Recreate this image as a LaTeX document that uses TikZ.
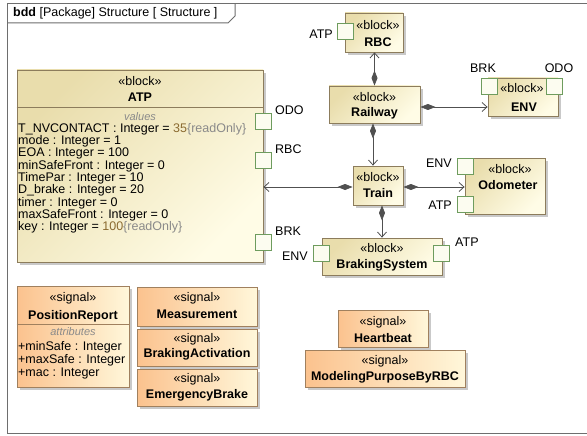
\documentclass[tikz,border=0pt]{standalone}
\usepackage{fontspec}
\setmainfont{Liberation Sans}
\usetikzlibrary{arrows.meta,shadows}

\definecolor{framegray}{HTML}{6E6E6E}
\definecolor{blockborder}{HTML}{8C7C5C}
\definecolor{blocktan}{HTML}{E9DDAC}
\definecolor{blockcream}{HTML}{FFFCE6}
\definecolor{sigborder}{HTML}{A0805E}
\definecolor{sigorange}{HTML}{FBC28E}
\definecolor{sigcream}{HTML}{FFF7DA}
\definecolor{portgreen}{HTML}{6E9C5E}
\definecolor{portfill}{HTML}{FCFCF0}
\definecolor{linegray}{HTML}{505050}
\definecolor{compgray}{HTML}{8A8A8A}
\definecolor{valbrown}{HTML}{8A6A30}

\newcommand\basefont{\fontsize{12.5pt}{14pt}\selectfont}

\tikzset{
  blockbox/.style={draw=blockborder, line width=0.8pt,
    top color=blocktan, bottom color=blockcream, shading angle=45,
    drop shadow={shadow xshift=3pt, shadow yshift=-3pt, opacity=0.35, fill=black!60},
    inner sep=0pt},
  sigbox/.style={draw=sigborder, line width=0.8pt,
    left color=sigorange, right color=sigcream,
    drop shadow={shadow xshift=3pt, shadow yshift=-3pt, opacity=0.35, fill=black!60},
    inner sep=0pt},
  portbox/.style={draw=portgreen, fill=portfill, line width=0.8pt,
    minimum width=16pt, minimum height=16pt, inner sep=0pt},
  lbl/.style={inner sep=0pt, font=\basefont},
  nmlbl/.style={inner sep=0pt, font=\basefont\bfseries},
  complbl/.style={inner sep=0pt, font=\fontsize{11pt}{12pt}\selectfont\itshape, text=compgray},
  attrlbl/.style={inner sep=0pt, font=\basefont, anchor=west},
  assoc/.style={draw=linegray, line width=0.8pt,
    {Diamond[length=15pt, width=6pt, fill=linegray]}-{Straight Barb[length=5pt, width=9pt]}},
}

\begin{document}
\begin{tikzpicture}[x=1pt, y=-1pt, font=\basefont]
\useasboundingbox (0,0) rectangle (587,436);
\fill[white] (0,0) rectangle (587,436);

% diagram frame with its name tab
\draw[framegray, line width=1pt] (592,4) -- (7,4) -- (7,433) -- (592,433);
\draw[framegray, line width=1pt] (7,23) -- (228,23) -- (235,16) -- (235,4);
\node[lbl, anchor=west] (title) at (13,13.5) {\textbf{bdd} [Package] Structure [ Structure ]};

% ---- ATP block with its values compartment
\node[blockbox, minimum width=246pt, minimum height=192pt] (atp) at (140,166) {};
\draw[blockborder, line width=0.8pt] (atp.west |- 0,107) -- (atp.east |- 0,107);
\node[lbl] (atpst) at (140,81) {«block»};
\node[nmlbl] (atpnm) at (140,97.5) {ATP};
\node[complbl] (atpval) at (140,117) {values};
\node[attrlbl] (a1) at (18,129) {T\_NVCONTACT : Integer = \textcolor{valbrown}{35}\textcolor{compgray}{\{readOnly\}}};
\node[attrlbl] (a2) at (18,141.3) {mode : Integer = 1};
\node[attrlbl] (a3) at (18,153.6) {EOA : Integer = 100};
\node[attrlbl] (a4) at (18,165.9) {minSafeFront : Integer = 0};
\node[attrlbl] (a5) at (18,178.2) {TimePar : Integer = 10};
\node[attrlbl] (a6) at (18,190.5) {D\_brake : Integer = 20};
\node[attrlbl] (a7) at (18,202.8) {timer : Integer = 0};
\node[attrlbl] (a8) at (18,215.1) {maxSafeFront : Integer = 0};
\node[attrlbl] (a9) at (18,227.4) {key : Integer = \textcolor{valbrown}{100}\textcolor{compgray}{\{readOnly\}}};
\node[portbox] (atpodo) at (263,121) {};
\node[portbox] (atprbc) at (263,160) {};
\node[portbox] (atpbrk) at (263,242) {};
\node[lbl, anchor=west] (latpodo) at (275,110) {ODO};
\node[lbl, anchor=west] (latprbc) at (275,149) {RBC};
\node[lbl, anchor=west] (latpbrk) at (275,231) {BRK};

% ---- RBC
\node[blockbox, minimum width=58pt, minimum height=39pt] (rbc) at (374,32.5) {};
\node[lbl] (rbcst) at (378,25) {«block»};
\node[nmlbl] (rbcnm) at (378,42) {RBC};
\node[portbox] (rbcatp) at (345,31) {};
\node[lbl, anchor=east] (lrbcatp) at (333,34) {ATP};

% ---- Railway
\node[blockbox, minimum width=91pt, minimum height=37pt] (rail) at (374.5,104.5) {};
\node[lbl] (railst) at (374.5,97) {«block»};
\node[nmlbl] (railnm) at (374.5,113) {Railway};

% ---- ENV
\node[blockbox, minimum width=70pt, minimum height=38pt] (env) at (523,97) {};
\node[lbl] (envst) at (522,88) {«block»};
\node[nmlbl] (envnm) at (524,107) {ENV};
\node[portbox] (envbrk) at (489,86.5) {};
\node[portbox] (envodo) at (554.5,86.5) {};
\node[lbl] (lenvbrk) at (483,68) {BRK};
\node[lbl] (lenvodo) at (559,68) {ODO};

% ---- Train
\node[blockbox, minimum width=50pt, minimum height=39pt] (train) at (378,185.5) {};
\node[lbl] (trainst) at (378,177) {«block»};
\node[nmlbl] (trainnm) at (378,193) {Train};

% ---- Odometer
\node[blockbox, minimum width=80pt, minimum height=56pt] (odo) at (505,186) {};
\node[lbl] (odost) at (510,169) {«block»};
\node[nmlbl] (odonm) at (508,185) {Odometer};
\node[portbox] (odoenv) at (465.5,166.5) {};
\node[portbox] (odoatp) at (465.5,204.5) {};
\node[lbl, anchor=east] (lodoenv) at (452,163) {ENV};
\node[lbl, anchor=east] (lodoatp) at (452,205) {ATP};

% ---- BrakingSystem
\node[blockbox, minimum width=120pt, minimum height=37pt] (brake) at (382,256.5) {};
\node[lbl] (brakest) at (382,248) {«block»};
\node[nmlbl] (brakenm) at (382,265) {BrakingSystem};
\node[portbox] (brakeenv) at (321.5,253.5) {};
\node[portbox] (brakeatp) at (441,253.5) {};
\node[lbl, anchor=east] (lbrakeenv) at (308,256) {ENV};
\node[lbl, anchor=west] (lbrakeatp) at (455,242) {ATP};

% ---- part associations (composition)
\draw[assoc] (rail.north) -- (rail.north |- rbc.south);
\draw[assoc] ([yshift=-2.5pt]rail.east) -- ([yshift=-2.5pt]rail.east -| env.west);
\draw[assoc] ([xshift=-1.5pt]rail.south) -- ([xshift=-1.5pt]rail.south |- train.north);
\draw[assoc] ([yshift=-1.5pt]train.west) -- ([yshift=-1.5pt]train.west -| atp.east);
\draw[assoc] ([yshift=-1.5pt]train.east) -- ([yshift=-1.5pt]train.east -| odo.west);
\draw[assoc] (brake.north |- train.south) -- (brake.north);

% ---- signals
\node[sigbox, minimum width=112pt, minimum height=101pt] (posrep) at (73,336.5) {};
\draw[sigborder, line width=0.8pt] (posrep.west |- 0,324) -- (posrep.east |- 0,324);
\node[lbl] (posst) at (73,298) {«signal»};
\node[nmlbl] (posnm) at (73,316) {PositionReport};
\node[complbl] (posattr) at (73,332) {attributes};
\node[attrlbl] (p1) at (18,347) {+minSafe : Integer};
\node[attrlbl] (p2) at (18,360) {+maxSafe : Integer};
\node[attrlbl] (p3) at (18,373) {+mac : Integer};

\node[sigbox, minimum width=120pt, minimum height=39pt] (meas) at (197,306.5) {};
\node[lbl] (measst) at (197,298) {«signal»};
\node[nmlbl] (measnm) at (197,314) {Measurement};

\node[sigbox, minimum width=120pt, minimum height=37pt] (bact) at (197,347.5) {};
\node[lbl] (bactst) at (197,339) {«signal»};
\node[nmlbl] (bactnm) at (197,354.5) {BrakingActivation};

\node[sigbox, minimum width=120pt, minimum height=37pt] (ebrake) at (197,387.5) {};
\node[lbl] (ebrakest) at (197,379) {«signal»};
\node[nmlbl] (ebrakenm) at (197,395) {EmergencyBrake};

\node[sigbox, minimum width=90pt, minimum height=37pt] (hb) at (383,328.5) {};
\node[lbl] (hbst) at (383,322) {«signal»};
\node[nmlbl] (hbnm) at (383,338) {Heartbeat};

\node[sigbox, minimum width=160pt, minimum height=37pt] (mprbc) at (385,368.5) {};
\node[lbl] (mprbcst) at (385,361) {«signal»};
\node[nmlbl] (mprbcnm) at (385,377) {ModelingPurposeByRBC};
\end{tikzpicture}
\end{document}
